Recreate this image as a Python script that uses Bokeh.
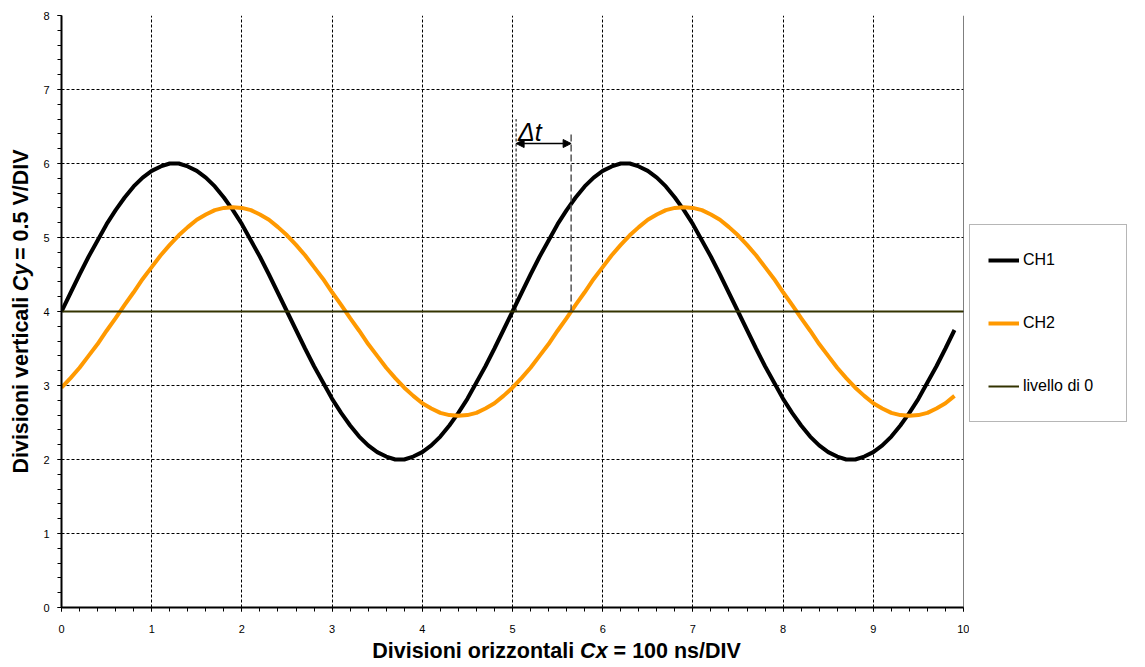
import math
from bokeh.plotting import figure
from bokeh.models import (Label, Span, Arrow, NormalHead, Legend, LegendItem,
                          SingleIntervalTicker, Range1d)
from bokeh.layouts import row, column
from bokeh.core.properties import value
from bokeh.embed import file_html
from bokeh.resources import INLINE

# ---------------- data ----------------
t = [0.0, 0.1, 0.2, 0.3, 0.4, 0.5, 0.6, 0.7, 0.8, 0.9,
     1.0, 1.1, 1.2, 1.3, 1.4, 1.5, 1.6, 1.7, 1.8, 1.9,
     2.0, 2.1, 2.2, 2.3, 2.4, 2.5, 2.6, 2.7, 2.8, 2.9,
     3.0, 3.1, 3.2, 3.3, 3.4, 3.5, 3.6, 3.7, 3.8, 3.9,
     4.0, 4.1, 4.2, 4.3, 4.4, 4.5, 4.6, 4.7, 4.8, 4.9,
     5.0, 5.1, 5.2, 5.3, 5.4, 5.5, 5.6, 5.7, 5.8, 5.9,
     6.0, 6.1, 6.2, 6.3, 6.4, 6.5, 6.6, 6.7, 6.8, 6.9,
     7.0, 7.1, 7.2, 7.3, 7.4, 7.5, 7.6, 7.7, 7.8, 7.9,
     8.0, 8.1, 8.2, 8.3, 8.4, 8.5, 8.6, 8.7, 8.8, 8.9,
     9.0, 9.1, 9.2, 9.3, 9.4, 9.5, 9.6, 9.7, 9.8, 9.9]

ch1 = [4.00, 4.25, 4.50, 4.74, 4.96, 5.18, 5.37, 5.54, 5.69, 5.81,
       5.90, 5.96, 6.00, 6.00, 5.96, 5.90, 5.81, 5.69, 5.54, 5.37,
       5.18, 4.96, 4.74, 4.50, 4.25, 4.00, 3.75, 3.50, 3.26, 3.04,
       2.82, 2.63, 2.46, 2.31, 2.19, 2.10, 2.04, 2.00, 2.00, 2.04,
       2.10, 2.19, 2.31, 2.46, 2.63, 2.82, 3.04, 3.26, 3.50, 3.75,
       4.00, 4.25, 4.50, 4.74, 4.96, 5.18, 5.37, 5.54, 5.69, 5.81,
       5.90, 5.96, 6.00, 6.00, 5.96, 5.90, 5.81, 5.69, 5.54, 5.37,
       5.18, 4.96, 4.74, 4.50, 4.25, 4.00, 3.75, 3.50, 3.26, 3.04,
       2.82, 2.63, 2.46, 2.31, 2.19, 2.10, 2.04, 2.00, 2.00, 2.04,
       2.10, 2.19, 2.31, 2.46, 2.63, 2.82, 3.04, 3.26, 3.50, 3.75]

ch2 = [2.97, 3.10, 3.24, 3.40, 3.56, 3.74, 3.91, 4.09, 4.26, 4.44,
       4.60, 4.76, 4.90, 5.03, 5.14, 5.24, 5.31, 5.37, 5.40, 5.41,
       5.40, 5.37, 5.31, 5.24, 5.14, 5.03, 4.90, 4.76, 4.60, 4.44,
       4.26, 4.09, 3.91, 3.74, 3.56, 3.40, 3.24, 3.10, 2.97, 2.86,
       2.76, 2.69, 2.63, 2.60, 2.59, 2.60, 2.63, 2.69, 2.76, 2.86,
       2.97, 3.10, 3.24, 3.40, 3.56, 3.74, 3.91, 4.09, 4.26, 4.44,
       4.60, 4.76, 4.90, 5.03, 5.14, 5.24, 5.31, 5.37, 5.40, 5.41,
       5.40, 5.37, 5.31, 5.24, 5.14, 5.03, 4.90, 4.76, 4.60, 4.44,
       4.26, 4.09, 3.91, 3.74, 3.56, 3.40, 3.24, 3.10, 2.97, 2.86,
       2.76, 2.69, 2.63, 2.60, 2.59, 2.60, 2.63, 2.69, 2.76, 2.86]

zero_t = [0, 10]
zero_y = [4, 4]

series_names = ["CH1", "CH2", "livello di 0"]
series_colors = ["black", "#FF9900", "#333300"]
series_widths = [4, 4, 2]

# delta-t marker times (crossings of level 4)
dt_start = 5.04
dt_end = 5.65

FONT = "Liberation Sans"

# ---------------- main chart ----------------
p = figure(frame_width=902, frame_height=592, x_range=(0, 10), y_range=(0, 8),
           output_backend="svg", toolbar_location=None,
           min_border_left=27, min_border_right=6,
           min_border_top=15, min_border_bottom=30)
p.outline_line_color = None
p.background_fill_color = "white"
p.border_fill_color = "white"

for ax in (p.xaxis[0], p.yaxis[0]):
    ax.ticker = SingleIntervalTicker(interval=1, num_minor_ticks=5)
    ax.axis_line_color = "black"
    ax.axis_line_width = 2
    ax.major_tick_line_color = "black"
    ax.minor_tick_line_color = "black"
    ax.major_tick_out = 4
    ax.major_tick_in = 0
    ax.minor_tick_out = 4
    ax.minor_tick_in = 0
    ax.major_label_text_font = FONT
    ax.major_label_text_font_size = "11px"
    ax.major_label_text_color = "black"
p.yaxis.major_label_standoff = 8
p.xaxis.major_label_standoff = 13

for g in (p.xgrid[0], p.ygrid[0]):
    g.grid_line_color = "black"
    g.grid_line_dash = "3 2"
    g.grid_line_width = 1
    g.ticker = SingleIntervalTicker(interval=1)

p.add_layout(Span(location=10, dimension="height", line_color="black", line_width=1))

p.line(t, ch1, line_color=series_colors[0], line_width=series_widths[0])
p.line(t, ch2, line_color=series_colors[1], line_width=series_widths[1])
p.line(zero_t, zero_y, line_color=series_colors[2], line_width=series_widths[2])

# delta-t annotation
p.segment(x0=[dt_start], y0=[4], x1=[dt_start], y1=[6.6],
          line_color="black", line_width=1, line_dash="3 2")
p.segment(x0=[dt_end], y0=[4], x1=[dt_end], y1=[6.43],
          line_color="#555555", line_width=1.5, line_dash="7 3")
p.add_layout(Arrow(start=NormalHead(size=8, fill_color="black", line_color="black"),
                   end=NormalHead(size=8, fill_color="black", line_color="black"),
                   x_start=dt_start, x_end=dt_end, y_start=6.27, y_end=6.27,
                   line_color="black", line_width=1.5))
p.add_layout(Label(x=dt_start + 0.02, y=6.42, text="\u0394t", text_font=FONT,
                   text_font_size="25px", text_font_style="italic",
                   text_baseline="alphabetic", text_align="left", text_color="black"))

# ---------------- helper strips (titles, legend) ----------------
def strip_fig(w, h, x0=0, y0=0):
    f = figure(width=w, height=h, x_range=Range1d(x0, x0 + w), y_range=Range1d(y0, y0 + h),
               output_backend="svg", toolbar_location=None,
               x_axis_type=None, y_axis_type=None,
               min_border=0, min_border_left=0, min_border_right=0,
               min_border_top=0, min_border_bottom=0)
    f.outline_line_color = None
    f.xgrid.visible = False
    f.ygrid.visible = False
    f.background_fill_color = "white"
    f.border_fill_color = "white"
    return f

def put(f, x, y, txt, style, align, angle=0.0):
    f.text(x=[x], y=[y], text=[txt], text_font=value(FONT), text_font_size="21.5px",
           text_font_style=style, text_align=align, text_baseline="middle",
           angle=angle, text_color="black")

# y title
ylab = strip_fig(34, 637)
a = math.pi / 2
put(ylab, 20, 637 - 302.6, "Divisioni verticali", "bold", "right", a)
put(ylab, 20, 637 - 296.6, "Cy", "bold italic", "left", a)
put(ylab, 20, 637 - 263.1, "= 0.5 V/DIV", "bold", "left", a)

# x title
xlab = strip_fig(1133, 28)
put(xlab, 573.6, 15, "Divisioni orizzontali", "bold", "right")
put(xlab, 579.6, 15, "Cx", "bold italic", "left")
put(xlab, 613.1, 15, "= 100 ns/DIV", "bold", "left")

# legend panel (series drawn again out of view, only to feed the legend)
legfig = strip_fig(164, 637, x0=1000, y0=1000)
lr = [legfig.line(t, ch1, line_color=series_colors[0], line_width=series_widths[0]),
      legfig.line(t, ch2, line_color=series_colors[1], line_width=series_widths[1]),
      legfig.line(zero_t, zero_y, line_color=series_colors[2], line_width=series_widths[2])]
legend = Legend(items=[LegendItem(label=n, renderers=[r]) for n, r in zip(series_names, lr)],
                location=(0, 185), orientation="vertical",
                padding=18, margin=0, spacing=29,
                glyph_width=31, glyph_height=34, label_height=34, label_width=85,
                label_standoff=4,
                label_text_font=FONT, label_text_font_size="16px",
                label_text_color="black",
                border_line_color="#6e6e6e", border_line_width=1,
                background_fill_color="white", background_fill_alpha=1)
legfig.add_layout(legend)

layout = column(row(ylab, p, legfig, spacing=0), xlab, spacing=0)

open("out.html", "w").write(file_html(layout, INLINE))
